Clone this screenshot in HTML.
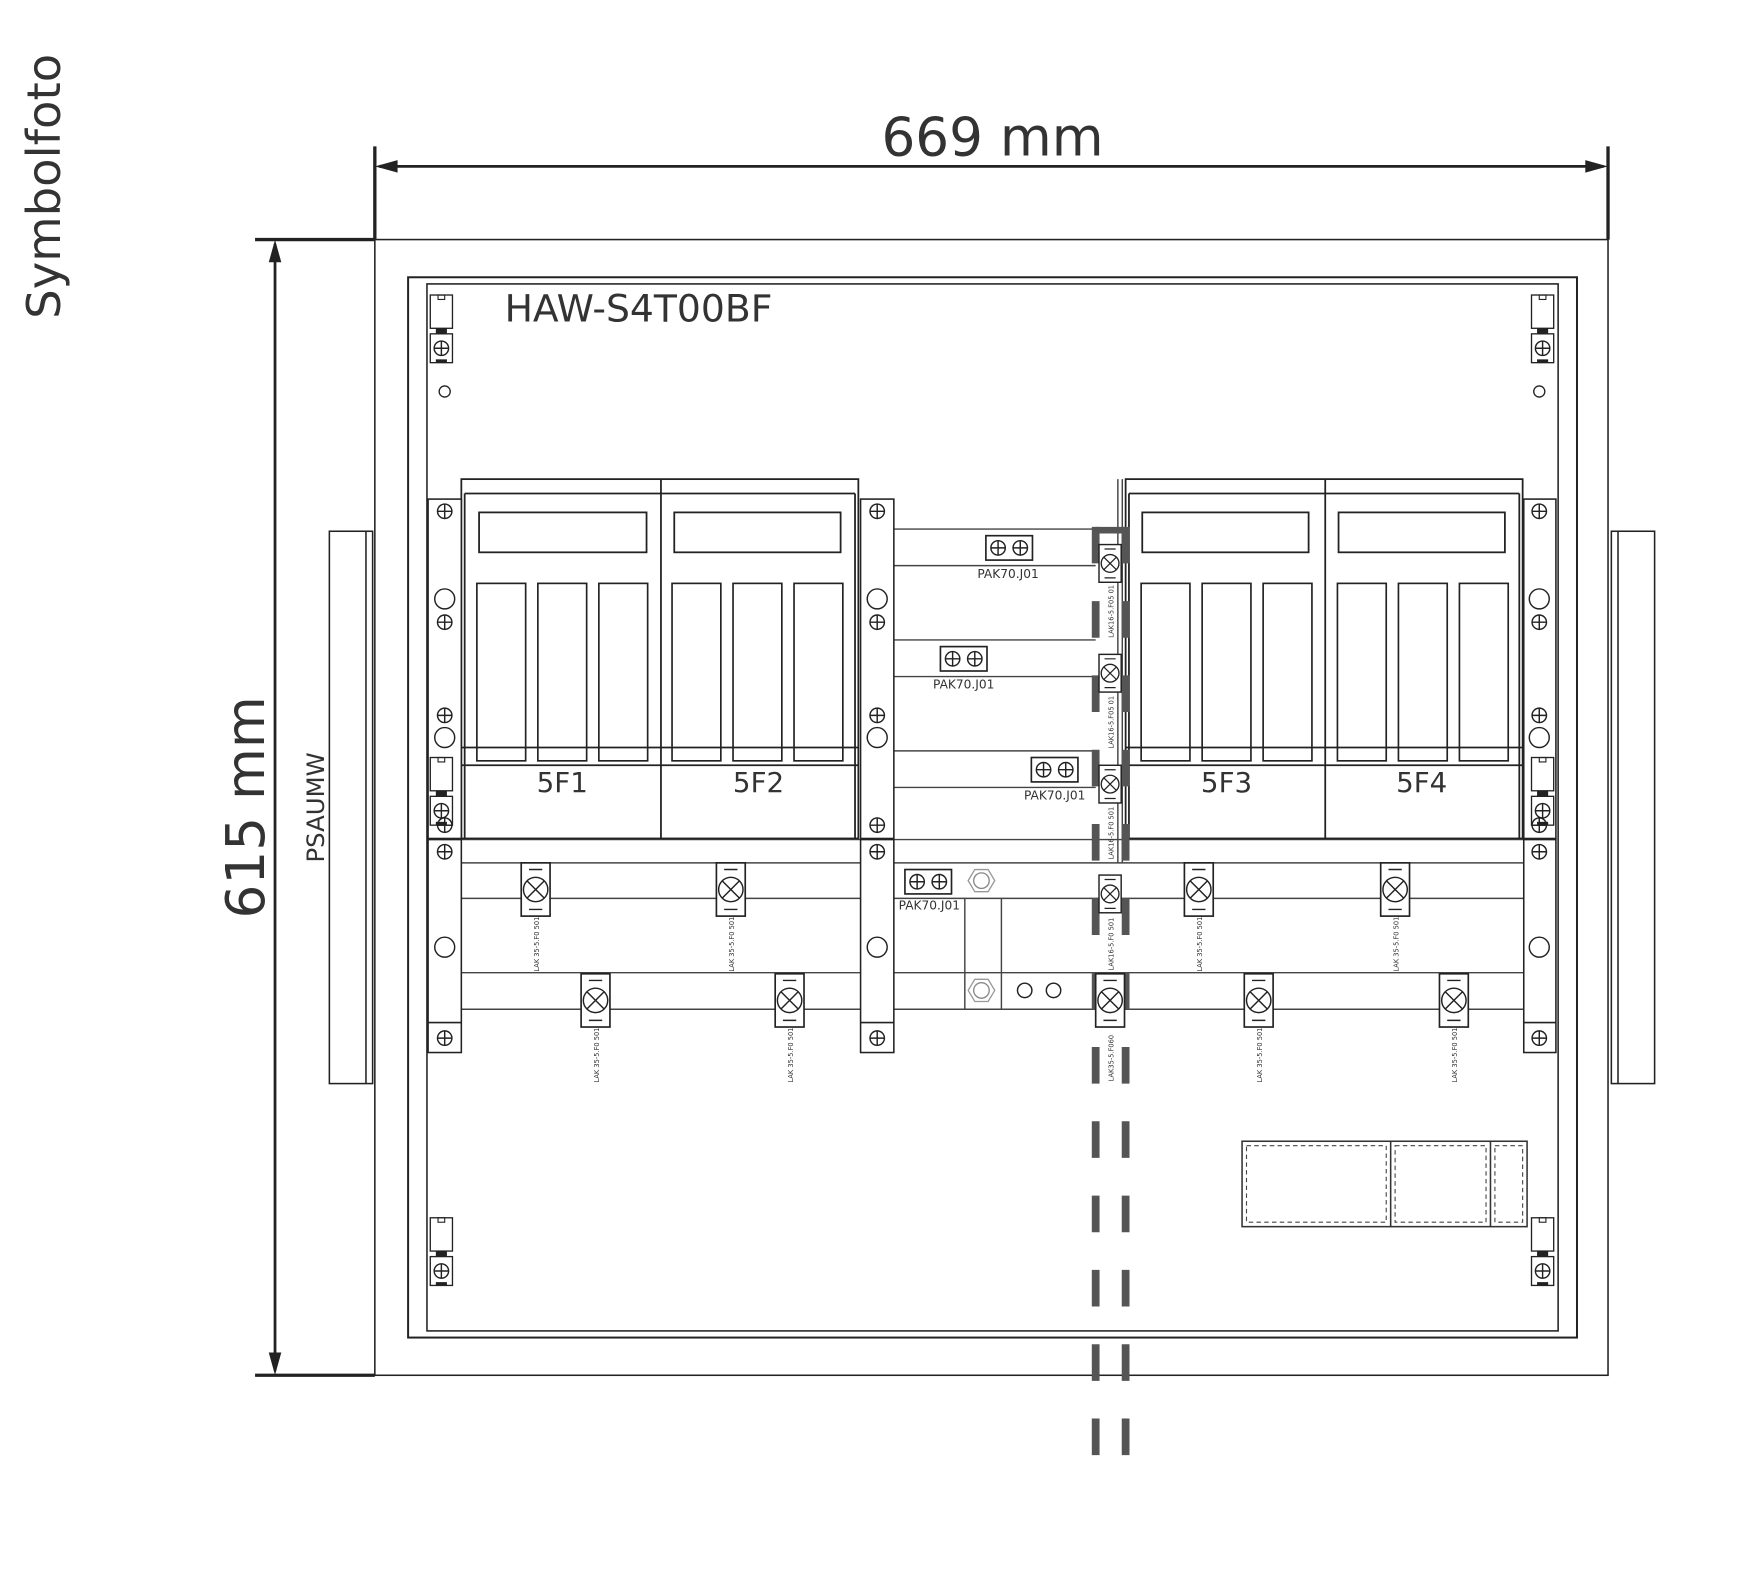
<!DOCTYPE html>
<html><head><meta charset="utf-8"><style>
html,body{margin:0;padding:0;background:#fff;}
svg{display:block;}
text{font-family:"DejaVu Sans","Liberation Sans",sans-serif;fill:#333;}
</style></head><body>
<svg width="1740" height="1586" viewBox="0 0 1569 1430" preserveAspectRatio="none" xmlns="http://www.w3.org/2000/svg">
<defs>
<g id="sc"><circle r="6.5" fill="none" stroke="#222" stroke-width="1.3"/><path d="M-6.5 0H6.5M0 -6.5V6.5" stroke="#222" stroke-width="1.3"/></g>
<g id="bc"><circle r="9" fill="none" stroke="#222" stroke-width="1.3"/></g>
<g id="lak"><rect x="-13" y="-24" width="26" height="48" fill="#fff" stroke="#222" stroke-width="1.5"/><path d="M-6 -18H6M-6 18H6" stroke="#222" stroke-width="1.3"/><circle r="11" fill="none" stroke="#222" stroke-width="1.3"/><path d="M-8 -8L8 8M8 -8L-8 8" stroke="#222" stroke-width="1.3"/></g>
<g id="laks"><rect x="-10" y="-17" width="20" height="34" fill="#fff" stroke="#222" stroke-width="1.3"/><path d="M-5 -13H5M-5 13H5" stroke="#222" stroke-width="1.1"/><circle r="8" fill="none" stroke="#222" stroke-width="1.2"/><path d="M-6 -6L6 6M6 -6L-6 6" stroke="#222" stroke-width="1.1"/></g>
<g id="pak"><rect x="0" y="0" width="42" height="22" fill="#fff" stroke="#222" stroke-width="1.5"/><use href="#sc" x="11" y="11"/><use href="#sc" x="31" y="11"/></g>
<g id="clip"><rect x="0" y="0" width="20" height="30" fill="#fff" stroke="#222" stroke-width="1.2"/><rect x="7" y="0" width="6" height="4" fill="none" stroke="#222" stroke-width="1"/><rect x="5" y="30" width="10" height="5" fill="#222"/><rect x="0" y="35" width="20" height="26" fill="#fff" stroke="#222" stroke-width="1.2"/><use href="#sc" x="10" y="48"/><rect x="5" y="58" width="10" height="3" fill="#222"/></g>
<g id="hex"><polygon points="-12,0 -6,-10 6,-10 12,0 6,10 -6,10" fill="none" stroke="#999" stroke-width="1.2"/><circle r="7" fill="none" stroke="#888" stroke-width="1.2"/></g>
<g id="pole"><rect x="0" y="0" width="44" height="160" fill="none" stroke="#222" stroke-width="1.5"/></g>
</defs>

<text transform="translate(54,168) rotate(-90)" font-size="42" text-anchor="middle">Symbolfoto</text>
<text x="895" y="140" font-size="48" text-anchor="middle">669 mm</text>
<text transform="translate(238,728) rotate(-90)" font-size="48" text-anchor="middle">615 mm</text>
<text transform="translate(292,728) rotate(-90)" font-size="22" text-anchor="middle">PSAUMW</text>

<g stroke="#222" fill="#222">
<path d="M338 132V216M1450 132V216" stroke-width="3"/>
<path d="M342 150H1446" stroke-width="2.5"/>
<polygon points="340,150 358,145 358,155"/><polygon points="1448,150 1430,145 1430,155"/>
<path d="M230 216H338M230 1240H338" stroke-width="3"/>
<path d="M248 220V1236" stroke-width="2.5"/>
<polygon points="248,218 243,236 253,236"/><polygon points="248,1238 243,1220 253,1220"/>
</g>

<g fill="none" stroke="#222" stroke-width="1.4">
<rect x="338" y="216" width="1112" height="1024"/>
<rect x="297" y="479" width="39" height="498"/><path d="M330 479V977"/>
<rect x="1453" y="479" width="39" height="498"/><path d="M1459 479V977"/>
<rect x="368" y="250" width="1054" height="956" stroke-width="1.8"/>
<rect x="385" y="256" width="1020" height="944"/>
</g>
<text x="455" y="290" font-size="34">HAW-S4T00BF</text>

<use href="#clip" x="388" y="266"/><use href="#clip" x="1381" y="266"/>
<use href="#clip" x="388" y="1098"/><use href="#clip" x="1381" y="1098"/>
<circle cx="401" cy="353" r="5" fill="none" stroke="#222" stroke-width="1.2"/>
<circle cx="1388" cy="353" r="5" fill="none" stroke="#222" stroke-width="1.2"/>

<g stroke="#444" stroke-width="1.3">
<path d="M806 477H988M806 510H988M806 577H988M806 610H988M806 677H988M806 710H988"/>
<path d="M416 757H1374M416 778H1374M416 810H1374M416 877H1374M416 910H1374"/>
<path d="M870 810V910M903 810V910"/>
<path d="M1008 432V778M1012 432V778"/>
</g>

<g fill="none" stroke="#222" stroke-width="1.6">
<rect x="416" y="432" width="358" height="324"/><path d="M419 445H771M596 432V756M419 445V756M771 445V756M416 674H774M416 690H774"/>
<rect x="432" y="462" width="151" height="36"/><rect x="608" y="462" width="150" height="36"/>
<rect x="1015" y="432" width="358" height="324"/><path d="M1018 445H1370M1195 432V756M1018 445V756M1370 445V756M1015 674H1373M1015 690H1373"/>
<rect x="1030" y="462" width="150" height="36"/><rect x="1207" y="462" width="150" height="36"/>
</g>
<use href="#pole" x="430" y="526"/><use href="#pole" x="485" y="526"/><use href="#pole" x="540" y="526"/>
<use href="#pole" x="606" y="526"/><use href="#pole" x="661" y="526"/><use href="#pole" x="716" y="526"/>
<use href="#pole" x="1029" y="526"/><use href="#pole" x="1084" y="526"/><use href="#pole" x="1139" y="526"/>
<use href="#pole" x="1206" y="526"/><use href="#pole" x="1261" y="526"/><use href="#pole" x="1316" y="526"/>
<text x="507" y="714" font-size="25" text-anchor="middle">5F1</text>
<text x="684" y="714" font-size="25" text-anchor="middle">5F2</text>
<text x="1106" y="714" font-size="25" text-anchor="middle">5F3</text>
<text x="1282" y="714" font-size="25" text-anchor="middle">5F4</text>

<g fill="#fff" stroke="#222" stroke-width="1.4">
<rect x="386" y="450" width="30" height="306"/><rect x="386" y="757" width="30" height="192"/><path d="M386 922H416"/>
<rect x="776" y="450" width="30" height="306"/><rect x="776" y="757" width="30" height="192"/><path d="M776 922H806"/>
<rect x="1374" y="450" width="29" height="306"/><rect x="1374" y="757" width="29" height="192"/><path d="M1374 922H1403"/>
</g>
<use href="#clip" x="388" y="683"/><use href="#clip" x="1381" y="683"/>
<g>
<use href="#sc" x="401" y="461"/><use href="#bc" x="401" y="540"/><use href="#sc" x="401" y="561"/><use href="#sc" x="401" y="645"/><use href="#bc" x="401" y="665"/><use href="#sc" x="401" y="744"/><use href="#sc" x="401" y="768"/><use href="#bc" x="401" y="854"/><use href="#sc" x="401" y="936"/>
<use href="#sc" x="791" y="461"/><use href="#bc" x="791" y="540"/><use href="#sc" x="791" y="561"/><use href="#sc" x="791" y="645"/><use href="#bc" x="791" y="665"/><use href="#sc" x="791" y="744"/><use href="#sc" x="791" y="768"/><use href="#bc" x="791" y="854"/><use href="#sc" x="791" y="936"/>
<use href="#sc" x="1388" y="461"/><use href="#bc" x="1388" y="540"/><use href="#sc" x="1388" y="561"/><use href="#sc" x="1388" y="645"/><use href="#bc" x="1388" y="665"/><use href="#sc" x="1388" y="744"/><use href="#sc" x="1388" y="768"/><use href="#bc" x="1388" y="854"/><use href="#sc" x="1388" y="936"/>
</g>

<use href="#pak" x="889" y="483"/><text x="909" y="521" font-size="11" text-anchor="middle">PAK70.J01</text>
<use href="#pak" x="848" y="583"/><text x="869" y="621" font-size="11" text-anchor="middle">PAK70.J01</text>
<use href="#pak" x="930" y="683"/><text x="951" y="721" font-size="11" text-anchor="middle">PAK70.J01</text>
<use href="#pak" x="816" y="784"/><text x="838" y="820" font-size="11" text-anchor="middle">PAK70.J01</text>
<use href="#hex" x="885" y="794"/><use href="#hex" x="885" y="893"/>
<circle cx="924" cy="893" r="6.5" fill="none" stroke="#222" stroke-width="1.3"/>
<circle cx="950" cy="893" r="6.5" fill="none" stroke="#222" stroke-width="1.3"/>

<use href="#lak" x="483" y="802"/><use href="#lak" x="659" y="802"/><use href="#lak" x="1081" y="802"/><use href="#lak" x="1258" y="802"/>
<use href="#lak" x="537" y="902"/><use href="#lak" x="712" y="902"/><use href="#lak" x="1135" y="902"/><use href="#lak" x="1311" y="902"/>
<g font-size="6" fill="#444">
<text transform="translate(486,876) rotate(-90)">LAK 35-5.F0 501</text>
<text transform="translate(662,876) rotate(-90)">LAK 35-5.F0 501</text>
<text transform="translate(1084,876) rotate(-90)">LAK 35-5.F0 501</text>
<text transform="translate(1261,876) rotate(-90)">LAK 35-5.F0 501</text>
<text transform="translate(540,976) rotate(-90)">LAK 35-5.F0 501</text>
<text transform="translate(715,976) rotate(-90)">LAK 35-5.F0 501</text>
<text transform="translate(1138,976) rotate(-90)">LAK 35-5.F0 501</text>
<text transform="translate(1314,976) rotate(-90)">LAK 35-5.F0 501</text>
<text transform="translate(1004,575) rotate(-90)">LAK16-5.F05 01</text>
<text transform="translate(1004,675) rotate(-90)">LAK16-5.F05 01</text>
<text transform="translate(1004,775) rotate(-90)">LAK16-5.F0 501</text>
<text transform="translate(1004,875) rotate(-90)">LAK16-5.F0 501</text>
<text transform="translate(1004,975) rotate(-90)">LAK35-5.F060</text>
</g>

<g stroke="#555" stroke-width="7" stroke-dasharray="33 34">
<path d="M988 475V1312M1015 475V1312"/>
</g>
<path d="M988 478H1015" stroke="#555" stroke-width="6"/>
<use href="#laks" x="1001" y="508"/><use href="#laks" x="1001" y="607"/><use href="#laks" x="1001" y="707"/><use href="#laks" x="1001" y="806"/>
<use href="#lak" x="1001" y="902"/>

<g fill="none" stroke="#333" stroke-width="1.4">
<rect x="1120" y="1029" width="257" height="77"/><path d="M1254 1029V1106M1344 1029V1106"/>
</g>
<g fill="none" stroke="#444" stroke-width="1" stroke-dasharray="4 3">
<rect x="1124" y="1033" width="126" height="69"/><rect x="1258" y="1033" width="82" height="69"/><rect x="1348" y="1033" width="25" height="69"/>
</g>
</svg>
</body></html>
